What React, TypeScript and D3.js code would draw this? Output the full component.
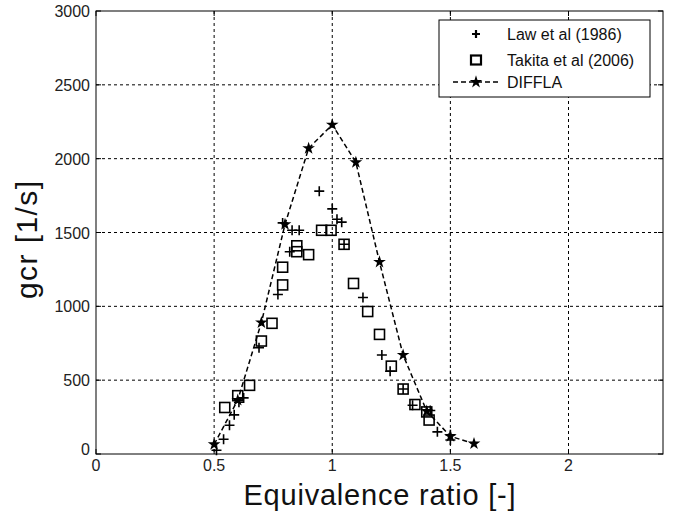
import React, { useEffect, useRef } from "react";
import * as d3 from "d3";

const xTicks = [0, 0.5, 1, 1.5, 2];
const yTicks = [0, 500, 1000, 1500, 2000, 2500, 3000];

const lawX = [0.51, 0.54, 0.565, 0.585, 0.605, 0.625, 0.69, 0.77, 0.79, 0.82, 0.83, 0.86, 0.945, 1.0, 1.02, 1.04, 1.05, 1.13, 1.21, 1.245, 1.3, 1.34, 1.415, 1.445, 1.5, 1.5];
const lawY = [25, 100, 195, 265, 350, 380, 720, 1080, 1565, 1370, 1515, 1515, 1780, 1660, 1590, 1570, 1420, 1060, 670, 560, 440, 330, 295, 150, 130, 95];

const takitaX = [0.545, 0.6, 0.65, 0.7, 0.745, 0.79, 0.79, 0.85, 0.85, 0.9, 0.955, 0.995, 1.05, 1.09, 1.15, 1.2, 1.25, 1.3, 1.35, 1.4, 1.41];
const takitaY = [315, 395, 465, 765, 885, 1145, 1265, 1370, 1410, 1350, 1515, 1515, 1420, 1155, 965, 810, 595, 440, 335, 285, 230];

const difflaX = [0.5, 0.6, 0.7, 0.8, 0.9, 1.0, 1.1, 1.2, 1.3, 1.4, 1.5, 1.6];
const difflaY = [65, 365, 890, 1555, 2070, 2230, 1975, 1300, 670, 290, 120, 70];

const legendLabels = ["Law et al (1986)", "Takita et al (2006)", "DIFFLA"];

const W = 677, H = 517;
const M = { left: 96, right: 663, top: 11, bottom: 454 };
const FONT = "Liberation Sans, Arial, sans-serif";

export default function App() {
  const ref = useRef<SVGSVGElement>(null);
  useEffect(() => {
    const svg = d3.select(ref.current);
    svg.selectAll("*").remove();
    const x = d3.scaleLinear().domain([0, 2.4]).range([M.left, M.right]);
    const y = d3.scaleLinear().domain([0, 3000]).range([M.bottom, M.top]);

    svg.append("rect").attr("width", W).attr("height", H).attr("fill", "white");

    const g = svg.append("g");
    xTicks.slice(1).forEach((t) => {
      g.append("line").attr("x1", x(t)).attr("x2", x(t)).attr("y1", M.top).attr("y2", M.bottom)
        .attr("stroke", "#000").attr("stroke-width", 1).attr("stroke-dasharray", "3,3");
    });
    yTicks.slice(1, -1).forEach((t) => {
      g.append("line").attr("x1", M.left).attr("x2", M.right).attr("y1", y(t)).attr("y2", y(t))
        .attr("stroke", "#000").attr("stroke-width", 1).attr("stroke-dasharray", "3,3");
    });

    xTicks.forEach((t) => {
      g.append("line").attr("x1", x(t)).attr("x2", x(t)).attr("y1", M.bottom).attr("y2", M.bottom - 5).attr("stroke", "#000");
      g.append("line").attr("x1", x(t)).attr("x2", x(t)).attr("y1", M.top).attr("y2", M.top + 5).attr("stroke", "#000");
      g.append("text").attr("x", x(t)).attr("y", M.bottom + 17).attr("text-anchor", "middle")
        .attr("font-family", FONT).attr("font-size", 16).attr("fill", "#222").text(String(t));
    });
    yTicks.forEach((t) => {
      g.append("line").attr("x1", M.left).attr("x2", M.left + 5).attr("y1", y(t)).attr("y2", y(t)).attr("stroke", "#000");
      g.append("line").attr("x1", M.right).attr("x2", M.right - 5).attr("y1", y(t)).attr("y2", y(t)).attr("stroke", "#000");
      g.append("text").attr("x", 90).attr("y", y(t) + 6 - (t === 0 ? 5 : 0)).attr("text-anchor", "end")
        .attr("font-family", FONT).attr("font-size", 16).attr("fill", "#222").text(String(t));
    });

    g.append("rect").attr("x", M.left).attr("y", M.top).attr("width", M.right - M.left).attr("height", M.bottom - M.top)
      .attr("fill", "none").attr("stroke", "#000").attr("stroke-width", 1);

    const dpts = difflaX.map((v, i) => [v, difflaY[i]] as [number, number]);
    const line = d3.line<[number, number]>().x((d) => x(d[0])).y((d) => y(d[1]));
    svg.append("path").attr("d", line(dpts)!).attr("fill", "none").attr("stroke", "#000")
      .attr("stroke-width", 1.5).attr("stroke-dasharray", "5,3");
    const star = d3.symbol().type(d3.symbolStar).size(50);
    svg.selectAll(".dm").data(dpts).enter().append("path")
      .attr("transform", (d) => `translate(${x(d[0])},${y(d[1])})`).attr("d", star()!).attr("fill", "#000");

    const s = 5;
    takitaX.forEach((v, i) => {
      svg.append("rect").attr("x", x(v) - s).attr("y", y(takitaY[i]) - s).attr("width", 2 * s).attr("height", 2 * s)
        .attr("fill", "none").attr("stroke", "#000").attr("stroke-width", 1.6);
    });

    const p = 5;
    lawX.forEach((v, i) => {
      const cx = x(v), cy = y(lawY[i]);
      svg.append("path").attr("d", `M${cx - p},${cy}H${cx + p}M${cx},${cy - p}V${cy + p}`)
        .attr("stroke", "#000").attr("stroke-width", 1.6).attr("fill", "none");
    });

    const L = { x: 439, y: 20, w: 211, h: 77 };
    const lg = svg.append("g");
    lg.append("rect").attr("x", L.x).attr("y", L.y).attr("width", L.w).attr("height", L.h)
      .attr("fill", "white").attr("stroke", "#000").attr("stroke-width", 1);
    const rows = [34, 60, 82];
    const mx = 476;
    lg.append("path").attr("d", `M${mx - 4},${rows[0]}H${mx + 4}M${mx},${rows[0] - 4}V${rows[0] + 4}`)
      .attr("stroke", "#000").attr("stroke-width", 2.2);
    lg.append("rect").attr("x", mx - 5).attr("y", rows[1] - 4.5).attr("width", 10).attr("height", 9)
      .attr("fill", "none").attr("stroke", "#000").attr("stroke-width", 2.2);
    lg.append("line").attr("x1", 453).attr("x2", 498).attr("y1", rows[2]).attr("y2", rows[2])
      .attr("stroke", "#000").attr("stroke-width", 1.5).attr("stroke-dasharray", "5,3");
    lg.append("path").attr("transform", `translate(${mx},${rows[2]})`).attr("d", star()!).attr("fill", "#000");
    legendLabels.forEach((t, i) => {
      lg.append("text").attr("x", 507).attr("y", rows[i] + 6).attr("font-family", FONT).attr("font-size", 16)
        .attr("fill", "#111").text(t);
    });

    svg.append("text").attr("x", (M.left + M.right) / 2).attr("y", 505).attr("text-anchor", "middle")
      .attr("font-family", FONT).attr("font-size", 29).attr("textLength", 272).attr("lengthAdjust", "spacing")
      .attr("fill", "#111").text("Equivalence ratio [-]");
    svg.append("text").attr("transform", `translate(37,240) rotate(-90)`).attr("text-anchor", "middle")
      .attr("font-family", FONT).attr("font-size", 30).attr("textLength", 118).attr("lengthAdjust", "spacing")
      .attr("fill", "#111").text("gcr [1/s]");
  }, []);
  return (
    <svg ref={ref} width={W} height={H} style={{ position: "absolute", left: 0, top: 0 }} />
  );
}
